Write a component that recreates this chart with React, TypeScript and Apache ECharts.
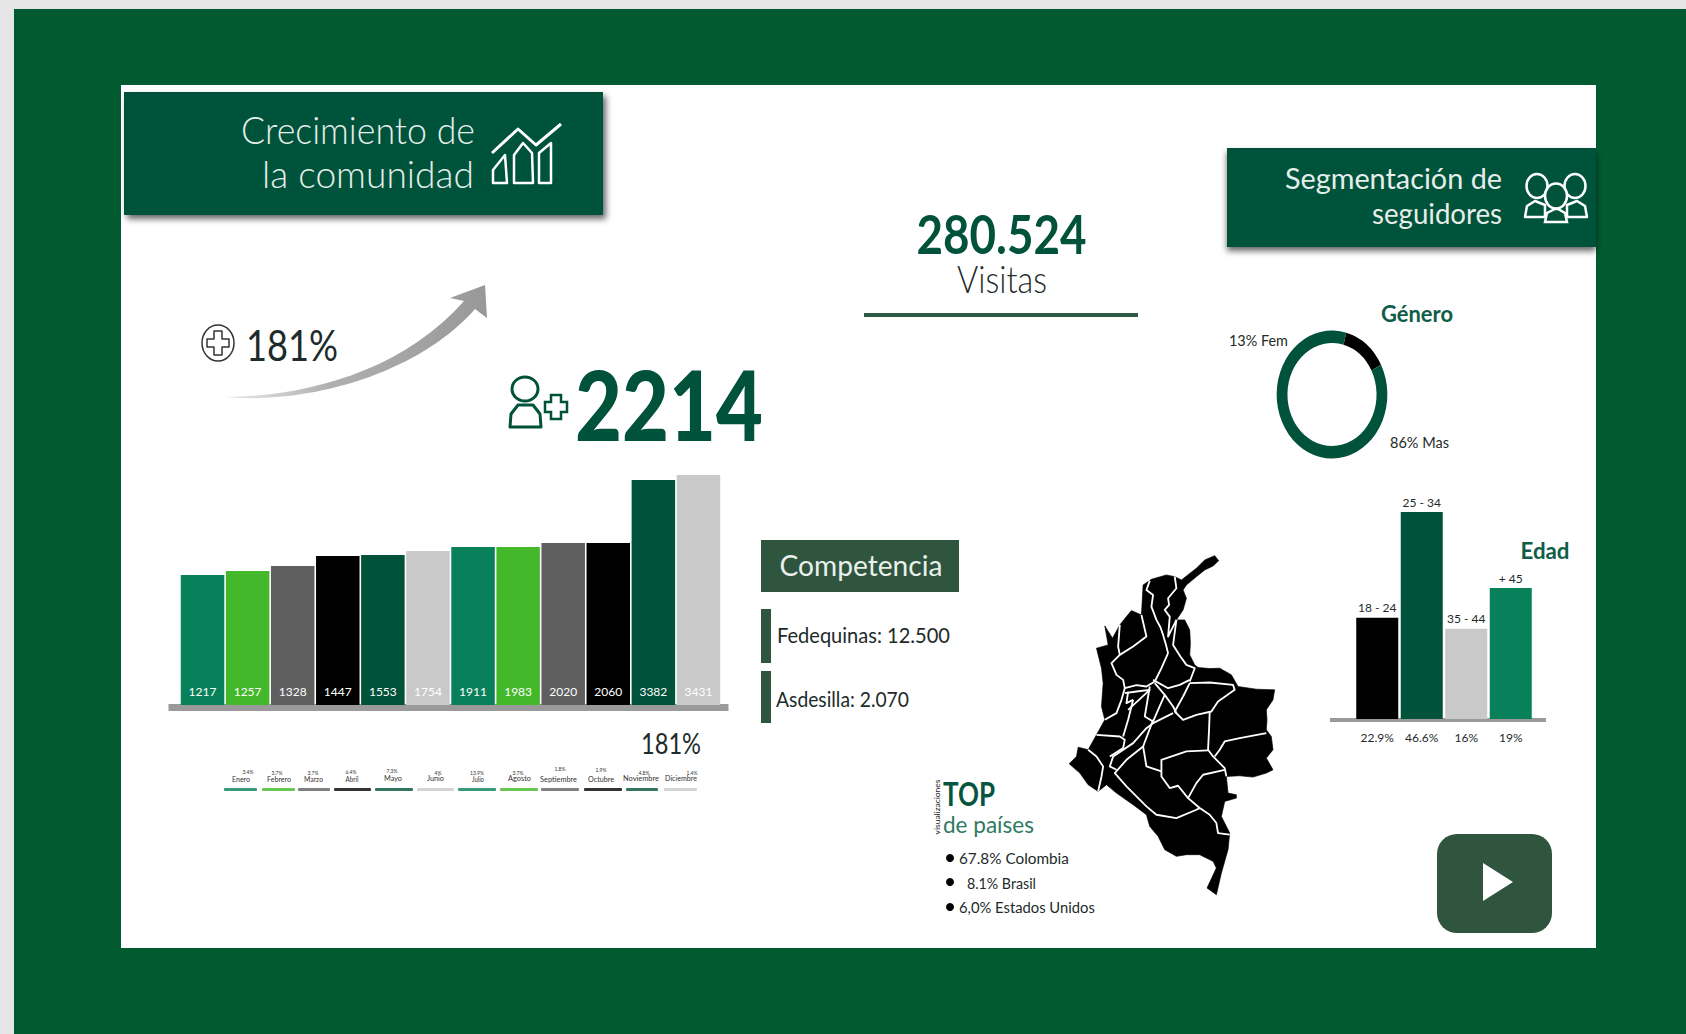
import React, { useEffect, useRef } from "react";
import * as echarts from "echarts";

// ---------- data ----------
const months = ["Enero", "Febrero", "Marzo", "Abril", "Mayo", "Junio", "Julio", "Agosto", "Septiembre", "Octubre", "Noviembre", "Diciembre"];
const followerLabels = [1217, 1257, 1328, 1447, 1553, 1754, 1911, 1983, 2020, 2060, 3382, 3431];
// bar heights as drawn in the picture (the original is not to scale with its labels)
const followerLevels = [130, 134, 139, 149, 150, 154, 158, 158, 162, 162, 225, 230];
const monthGrowth = ["3.4%", "3.7%", "3.7%", "6.4%", "7.3%", "4%", "13.9%", "3.7%", "1.8%", "1.9%", "4.8%", "1.4%"];
const monthColors = ["#08815a", "#43b82b", "#5f5f5f", "#000000", "#00523a", "#c9c9c9", "#08815a", "#43b82b", "#5f5f5f", "#000000", "#00523a", "#c9c9c9"];

const ageRanges = ["18 - 24", "25 - 34", "35 - 44", "+ 45"];
const agePercents = ["22.9%", "46.6%", "16%", "19%"];
const ageLevels = [22.8, 46.6, 20.3, 29.5];
const ageColors = ["#000000", "#00523a", "#c9c9c9", "#08815a"];

const genderNames = ["Fem", "Mas"];
const genderValues = [13, 86];
const genderColors = ["#000000", "#00523a"];

const countries = ["67.8% Colombia", "8.1% Brasil", "6,0% Estados Unidos"];
const competitors = ["Fedequinas: 12.500", "Asdesilla: 2.070"];

// ---------- decoration shapes ----------
const FONT = "Lato, 'Noto Sans', sans-serif";
const DARK = "#03533a";
const PANEL = "#30553e";
const INK = "#1d2b2a";

echarts.graphic.registerShape(
  "growthArrow",
  echarts.graphic.extendPath(
    "M223 397 C300 397 400 374 464 301 L450 298 L485 285 L487 318 L475 309 C420 372 312 405 223 397 Z",
    {}
  )
);

const mapOutline = [[885,47],[897,62],[880,78],[855,90],[830,110],[800,135],[790,150],[800,175],[790,210],[770,240],[795,240],[810,270],[812,310],[810,345],[825,375],[835,383],[870,386],[900,385],[935,405],[955,440],[1010,448],[1065,450],[1060,480],[1040,510],[1042,540],[1040,570],[1055,590],[1060,630],[1040,655],[1060,690],[1040,700],[1000,712],[960,708],[920,710],[925,760],[950,765],[950,775],[915,785],[905,830],[930,880],[925,930],[905,1000],[890,1065],[862,1045],[890,985],[880,965],[840,945],[800,945],[770,950],[735,930],[715,890],[690,860],[680,825],[640,795],[590,760],[560,735],[535,755],[505,735],[480,700],[448,672],[470,650],[475,622],[505,630],[530,585],[555,540],[545,500],[550,430],[545,385],[530,325],[565,315],[555,258],[578,295],[600,255],[620,230],[635,212],[665,225],[670,135],[695,118],[740,105],[765,110],[785,120],[830,85],[855,60]];
const mapBorders = [
  [[690,122],[680,150],[700,165],[695,200],[710,240],[722,262],[730,285],[738,312],[745,340]],
  [[765,110],[770,145],[745,175],[748,195],[735,210],[750,230],[745,290],[770,240]],
  [[770,240],[760,315],[782,350],[800,375],[825,385],[810,425]],
  [[665,225],[680,290],[660,305],[640,320],[600,345],[575,370],[590,405],[610,420],[615,445],[650,436],[680,440],[705,425],[725,385],[745,340]],
  [[600,255],[595,320],[600,345]],
  [[810,430],[870,428],[940,435],[945,450],[895,485],[875,515],[830,525],[790,540],[765,515],[790,470],[810,430]],
  [[870,515],[868,570],[865,630],[880,650],[915,685],[920,710]],
  [[1040,580],[960,595],[915,605],[900,630],[885,650]],
  [[865,632],[800,635],[725,660],[725,710],[750,745],[775,738],[805,775],[830,730],[850,705],[915,690]],
  [[805,775],[840,805],[870,825],[890,850],[895,880],[930,885]],
  [[670,620],[680,680],[725,695]],
  [[700,540],[670,620],[620,660],[585,700],[620,740],[650,770],[680,800],[710,825],[770,835],[830,810],[840,805]],
  [[760,520],[700,550],[680,565],[640,610],[580,650],[570,680],[590,690]],
  [[530,585],[600,590],[615,600],[610,625],[570,650]],
  [[505,630],[530,650],[550,680],[545,710],[535,755]],
  [[555,540],[590,520],[605,480],[615,445]],
  [[640,480],[625,540],[610,590]],
  [[690,440],[675,530],[700,545]],
  [[705,430],[735,465],[760,500],[770,520]],
  [[615,460],[650,455],[690,450],[625,510]],
  [[700,420],[745,445],[780,435],[810,420]],
  [[735,465],[715,510],[700,545]],
  [[625,455],[620,490],[640,480]],
];

const measureCtx = document.createElement("canvas").getContext("2d") as CanvasRenderingContext2D;

type TextOpts = { size: number; width?: number; weight?: number | string; color?: string; align?: string; rotation?: number };
function label(text: string, x: number, y: number, o: TextOpts) {
  const weight = o.weight ?? 400;
  measureCtx.font = `${weight} ${o.size}px Lato`;
  const natural = measureCtx.measureText(text).width || 1;
  const scaleX = o.width ? o.width / natural : 1;
  return {
    type: "text", x, y, scaleX, rotation: o.rotation ?? 0, silent: true,
    style: {
      text, fontFamily: FONT, fontSize: o.size, fontWeight: weight,
      fill: o.color ?? INK, align: o.align ?? "left", verticalAlign: "middle",
    },
  };
}
const rect = (x: number, y: number, width: number, height: number, fill: string, extra: any = {}) => ({
  type: "rect", silent: true, shape: { x, y, width, height, r: extra.r ?? 0 },
  style: { fill, ...(extra.style ?? {}) },
});
const stroke = (color: string, lineWidth: number) => ({ fill: "none", stroke: color, lineWidth, lineJoin: "round" });
const poly = (points: number[][], color: string, lw: number) => ({ type: "polygon", silent: true, shape: { points }, style: stroke(color, lw) });
const oval = (cx: number, cy: number, rx: number, ry: number, color: string, lw: number) => ({ type: "ellipse", silent: true, shape: { cx, cy, rx, ry }, style: stroke(color, lw) });
const cross = (cx: number, cy: number, a: number, b: number, h: number, k: number) => [
  [cx - a, cy - k], [cx + a, cy - k], [cx + a, cy - h], [cx + b, cy - h], [cx + b, cy + h], [cx + a, cy + h], [cx + a, cy + k], [cx - a, cy + k], [cx - a, cy + h], [cx - b, cy + h], [cx - b, cy - h], [cx - a, cy - h],
];

// layout of the small month key under the big bar chart
const keyLines = [[224,257],[262,295],[298,330],[334,371],[375,413],[417,454],[458,496],[500,538],[541,579],[584,622],[626,658],[664,697]];
const keyMonth = [[241,779,18],[279,779,24],[313.5,779,19],[352,779,13],[393,779,18],[435.5,779,17],[478,779,12],[519.5,779,23],[558.5,780,37],[601,780,26],[641,778.5,36],[681,779,32]];
const keyPct = [[248,772],[277,772.5],[313,773],[351,772],[392,771],[438,772.5],[477,772.5],[518,773],[560,769],[601,770],[644,772.5],[692,772.5]];

function buildGraphics() {
  const shadow = { shadowBlur: 6, shadowOffsetX: 3, shadowOffsetY: 4, shadowColor: "rgba(0,0,0,0.6)" };
  const shadowDown = { shadowBlur: 6, shadowOffsetX: 0, shadowOffsetY: 4, shadowColor: "rgba(0,0,0,0.6)" };
  const els: any[] = [
    rect(0, 0, 1686, 1034, "#e6e6e6"),
    rect(14, 9, 1672, 1025, "#025a30"),
    rect(121, 85, 1475, 863, "#ffffff"),

    // header 1
    rect(124, 92, 479, 123, DARK, { style: shadow }),
    label("Crecimiento de", 475, 130, { size: 37, width: 234, weight: 300, color: "#e6eeea", align: "right" }),
    label("la comunidad", 474, 174, { size: 37, width: 212, weight: 300, color: "#e6eeea", align: "right" }),
    { type: "polyline", silent: true, shape: { points: [[492,153],[518,129],[536,145],[561,124]] }, style: stroke("#ffffff", 3) },
    poly([[493,183],[493,170],[505,155],[507,183]], "#ffffff", 2.5),
    poly([[514,183],[514,155],[523,143],[532,153],[533,183]], "#ffffff", 2.5),
    poly([[539,183],[539,153],[551,143],[551,183]], "#ffffff", 2.5),

    // growth
    oval(218, 343, 16, 18, "#333333", 1.5),
    poly(cross(218, 343, 4, 11, 4, 12), "#333333", 1.5),
    label("181%", 246, 344, { size: 42, width: 92, color: INK }),
    {
      type: "growthArrow", silent: true, x: 0, y: 0,
      style: {
        fill: { type: "linear", x: 0, y: 0, x2: 1, y2: 0, colorStops: [{ offset: 0, color: "#ececec" }, { offset: 0.4, color: "#b0b0b0" }, { offset: 1, color: "#989898" }] },
      },
    },
    label("2214", 575, 404, { size: 97, width: 188, weight: 900, color: "#00523a" }),
    oval(525, 389, 13, 12, "#00523a", 3),
    poly([[510,427],[511,414],[518,405],[533,405],[540,414],[541,427]], "#00523a", 3),
    { type: "polygon", silent: true, shape: { points: cross(556, 407, 5, 11, 5, 12) }, style: { fill: "#ffffff", stroke: "#00523a", lineWidth: 2.5 } },

    // main chart base
    rect(168.5, 704, 560, 7, "#9a9a9a"),
    label("181%", 641, 743, { size: 29, width: 60, color: INK }),

    // visits
    label("280.524", 1001.5, 233, { size: 54, width: 170, weight: 700, color: "#00523a", align: "center" }),
    label("Visitas", 1002, 278.5, { size: 38, width: 90, weight: 300, color: INK, align: "center" }),
    rect(864, 313, 274, 4, "#2e5a45"),

    // header 2
    rect(1227, 148, 369, 99, DARK, { style: shadowDown }),
    label("Segmentación de", 1502, 177, { size: 29, width: 217, color: "#e6eeea", align: "right" }),
    label("seguidores", 1502, 213, { size: 29, width: 130, color: "#e6eeea", align: "right" }),
    oval(1537, 186, 10.5, 12, "#ffffff", 2.5),
    oval(1575, 186, 10.5, 12, "#ffffff", 2.5),
    poly([[1525,217],[1527,206],[1535,201],[1545,205],[1545,217]], "#ffffff", 2.5),
    poly([[1567,217],[1567,205],[1577,201],[1585,206],[1587,217]], "#ffffff", 2.5),
    { type: "ellipse", silent: true, shape: { cx: 1556, cy: 196, rx: 11, ry: 12.5 }, style: { fill: DARK, stroke: "#ffffff", lineWidth: 2.5 } },
    { type: "polygon", silent: true, shape: { points: [[1545,222],[1547,213],[1555,209],[1558,209],[1565,213],[1567,222]] }, style: { fill: DARK, stroke: "#ffffff", lineWidth: 2.5 } },

    // gender labels
    label("Género", 1417, 313, { size: 22, width: 72, weight: 700, color: "#0f5d48", align: "center" }),
    label(`${genderValues[0]}% ${genderNames[0]}`, 1229, 339.5, { size: 15, width: 59, color: INK }),
    label(`${genderValues[1]}% ${genderNames[1]}`, 1390, 441.5, { size: 15, width: 59, color: INK }),

    // age
    rect(1330, 718, 216, 4, "#9a9a9a"),
    label("Edad", 1545, 551, { size: 22, width: 49, weight: 700, color: "#0f5d48", align: "center" }),

    // competition
    rect(761, 540, 198, 52, PANEL),
    label("Competencia", 861, 565, { size: 29, width: 163, color: "#eaf0ec", align: "center" }),
    rect(761, 609, 10, 54, PANEL),
    rect(761, 671, 10, 52, PANEL),
    label(competitors[0], 777, 634.5, { size: 22, width: 173, color: INK }),
    label(competitors[1], 776, 698, { size: 22, width: 133, color: INK }),

    // map
    {
      type: "group", x: 920, y: 540, scaleX: 1 / 3, scaleY: 1 / 3, silent: true,
      children: [
        { type: "polygon", silent: true, shape: { points: mapOutline }, style: { fill: "#000000", stroke: "#000000", lineWidth: 2 } },
        ...mapBorders.map((points) => ({ type: "polyline", silent: true, shape: { points }, style: stroke("#ffffff", 5.5) })),
      ],
    },

    // top countries
    label("TOP", 943, 793.5, { size: 32, width: 52, weight: 700, color: "#06563f" }),
    label("de países", 943, 824, { size: 23, width: 91, color: "#2f7a63" }),
    label("visualizaciones", 937, 807, { size: 7, width: 55, color: "#222222", align: "center", rotation: Math.PI / 2 }),
    { type: "circle", silent: true, shape: { cx: 950, cy: 858, r: 4 }, style: { fill: "#000000" } },
    { type: "circle", silent: true, shape: { cx: 950, cy: 882, r: 4 }, style: { fill: "#000000" } },
    { type: "circle", silent: true, shape: { cx: 950, cy: 907, r: 4 }, style: { fill: "#000000" } },
    label(countries[0], 959, 858.5, { size: 15, width: 110, color: INK }),
    label(countries[1], 967, 883, { size: 15, width: 69, color: INK }),
    label(countries[2], 959, 907, { size: 15, width: 136, color: INK }),

    // play button
    { type: "rect", silent: true, shape: { x: 1437, y: 834, width: 115, height: 99, r: 20 }, style: { fill: PANEL } },
    { type: "polygon", silent: true, shape: { points: [[1483,863],[1513,882],[1483,901]] }, style: { fill: "#ffffff" } },
  ];

  months.forEach((m, i) => {
    const [x0, x1] = keyLines[i];
    const [mx, my, mw] = keyMonth[i];
    const [px, py] = keyPct[i];
    els.push(
      { type: "rect", silent: true, shape: { x: x0, y: 788, width: x1 - x0, height: 3, r: 1 }, style: { fill: monthColors[i], opacity: 0.8 } },
      label(m, mx, my, { size: 7, width: mw, color: "#333333", align: "center" }),
      label(monthGrowth[i], px, py, { size: 5, color: "#333333", align: "center" })
    );
  });
  return els;
}

const hiddenY = (gridIndex: number, max: number) => ({
  type: "value", gridIndex, min: 0, max, show: false, splitLine: { show: false },
});

export default function App() {
  const ref = useRef<HTMLDivElement>(null);
  useEffect(() => {
    if (!ref.current) return;
    document.body.style.margin = "0";
    document.body.style.overflow = "hidden";
    const chart = echarts.init(ref.current, undefined, { renderer: "svg" });
    chart.setOption({
      animation: false,
      backgroundColor: "#ffffff",
      tooltip: { show: false },
      graphic: { elements: buildGraphics() },
      grid: [
        { left: 180, top: 455, width: 541, height: 250 },
        { left: 1355, top: 497, width: 178, height: 222 },
      ],
      xAxis: [
        { type: "category", gridIndex: 0, data: months, axisLine: { show: false }, axisTick: { show: false }, axisLabel: { show: false } },
        {
          type: "category", gridIndex: 1, data: agePercents, axisLine: { show: false }, axisTick: { show: false },
          axisLabel: { show: true, margin: 12, fontFamily: FONT, fontSize: 12, color: INK, interval: 0 },
        },
      ],
      yAxis: [hiddenY(0, 250), hiddenY(1, 50)],
      series: [
        {
          type: "bar", xAxisIndex: 0, yAxisIndex: 0, barWidth: 43.5,
          data: followerLevels.map((value, i) => ({ value, itemStyle: { color: monthColors[i] } })),
          label: {
            show: true, position: "insideBottom", distance: 8, fontFamily: FONT, fontSize: 12, color: "#ffffff",
            formatter: (p: any) => String(followerLabels[p.dataIndex]),
          },
        },
        {
          type: "bar", xAxisIndex: 1, yAxisIndex: 1, barWidth: 42,
          data: ageLevels.map((value, i) => ({ value, itemStyle: { color: ageColors[i] } })),
          label: {
            show: true, position: "top", distance: 4, fontFamily: FONT, fontSize: 12, color: INK,
            formatter: (p: any) => ageRanges[p.dataIndex],
          },
        },
        {
          // the ring in the picture is slightly oval, which a pie series cannot draw
          type: "custom", coordinateSystem: "none", silent: true,
          data: genderValues.map((v) => [v]),
          renderItem: (params: any, api: any) => {
            const total = genderValues.reduce((a, b) => a + b, 0);
            const before = genderValues.slice(0, params.dataIndex).reduce((a, b) => a + b, 0);
            const origin = -Math.PI / 2 + (15 * Math.PI) / 180;
            const start = origin + (before / total) * Math.PI * 2;
            const end = start + (api.value(0) / total) * Math.PI * 2;
            return {
              type: "sector", x: 1332, y: 394.5, scaleX: 0.865, scaleY: 1,
              shape: { cx: 0, cy: 0, r: 64, r0: 51.5, startAngle: start, endAngle: end, clockwise: true },
              style: { fill: genderColors[params.dataIndex] },
            };
          },
        },
      ],
    });
    return () => chart.dispose();
  }, []);
  return <div ref={ref} style={{ width: 1686, height: 1034 }} />;
}
